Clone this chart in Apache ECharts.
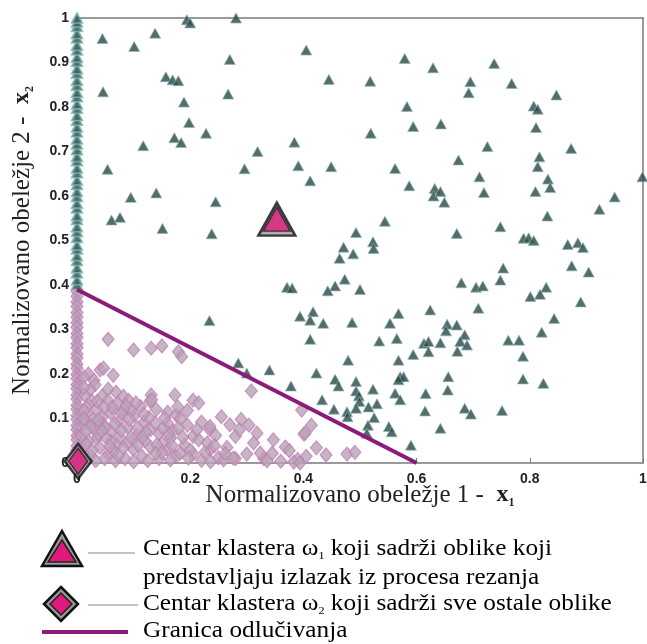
<!DOCTYPE html>
<html><head><meta charset="utf-8">
<script src="https://cdn.jsdelivr.net/npm/echarts@6/dist/echarts.min.js"></script>
<style>html,body{margin:0;padding:0;background:#fff}#c{width:647px;height:644px}</style>
</head><body><div id="c"></div>
<script>
// ---- data ----
const xTicks = [0, 0.2, 0.4, 0.6, 0.8, 1];
const yTicks = [0, 0.1, 0.2, 0.3, 0.4, 0.5, 0.6, 0.7, 0.8, 0.9, 1];

// class 1 (triangles) stacked on x = 0
const class1ColumnY = [0.401,0.412,0.427,0.439,0.455,0.466,0.481,0.490,0.507,0.520,0.531,0.547,0.556,0.573,0.584,0.599,0.610,0.626,0.636,0.652,0.663,0.679,0.689,0.704,0.717,0.728,0.744,0.755,0.770,0.781,0.797,0.807,0.823,0.833,0.849,0.860,0.876,0.886,0.902,0.912,0.928,0.939,0.955,0.965,0.981,0.991,1.000];
// class 1 (triangles) scattered points [x1, x2]
const class1Points = [
[0.194,0.996],[0.200,0.989],[0.281,1.0],[0.045,0.954],[0.138,0.966],[0.101,0.936],[0.405,0.928],[0.270,0.907],[0.157,0.868],[0.169,0.861],[0.179,0.859],[0.445,0.862],[0.046,0.834],[0.267,0.829],[0.189,0.811],[0.198,0.765],[0.228,0.741],[0.172,0.731],[0.184,0.720],[0.117,0.713],[0.384,0.721],[0.319,0.700],[0.054,0.660],[0.296,0.661],[0.391,0.668],[0.449,0.666],[0.412,0.634],[0.095,0.597],[0.140,0.607],[0.245,0.587],[0.061,0.546],[0.076,0.552],[0.151,0.527],[0.238,0.515],
[0.579,0.909],[0.629,0.888],[0.737,0.898],[0.518,0.858],[0.695,0.857],[0.692,0.832],[0.768,0.853],[0.847,0.827],[0.583,0.801],[0.807,0.802],[0.814,0.795],[0.519,0.741],[0.594,0.756],[0.643,0.762],[0.811,0.754],[0.725,0.711],[0.873,0.707],[0.817,0.688],[0.674,0.681],[0.814,0.666],[0.562,0.662],[0.711,0.643],[0.832,0.638],[0.836,0.619],[0.999,0.643],[0.587,0.623],[0.632,0.617],[0.630,0.600],[0.642,0.610],[0.649,0.586],[0.719,0.608],[0.810,0.610],[0.950,0.598],[0.923,0.570],[0.831,0.555],
[0.544,0.543],[0.748,0.531],[0.671,0.516],[0.493,0.518],[0.523,0.497],[0.524,0.482],[0.471,0.485],[0.488,0.470],[0.464,0.460],[0.789,0.505],[0.798,0.506],[0.807,0.500],[0.867,0.491],[0.885,0.495],[0.894,0.484],[0.874,0.443],[0.904,0.429],[0.753,0.438],[0.748,0.411],[0.679,0.405],[0.705,0.395],[0.717,0.398],[0.829,0.395],[0.818,0.379],[0.801,0.374],[0.890,0.362],[0.473,0.413],[0.456,0.398],[0.443,0.387],[0.500,0.390],
[0.709,0.348],[0.624,0.344],[0.568,0.336],[0.843,0.325],[0.417,0.340],[0.412,0.321],[0.394,0.330],[0.435,0.314],[0.486,0.316],[0.553,0.314],[0.654,0.312],[0.671,0.310],[0.652,0.297],[0.821,0.294],[0.412,0.278],[0.534,0.274],[0.565,0.280],[0.685,0.288],[0.677,0.273],[0.689,0.265],[0.672,0.251],[0.642,0.270],[0.613,0.269],[0.621,0.273],[0.621,0.250],[0.594,0.244],[0.762,0.276],[0.781,0.276],[0.788,0.240],[0.479,0.231],[0.568,0.231],
[0.423,0.202],[0.456,0.188],[0.462,0.173],[0.493,0.183],[0.493,0.162],[0.498,0.151],[0.499,0.138],[0.523,0.166],[0.571,0.194],[0.577,0.194],[0.568,0.187],[0.656,0.194],[0.655,0.164],[0.616,0.156],[0.562,0.157],[0.571,0.142],[0.788,0.189],[0.824,0.179],[0.433,0.142],[0.454,0.121],[0.477,0.115],[0.478,0.104],[0.493,0.123],[0.515,0.126],[0.530,0.133],[0.525,0.102],[0.514,0.085],[0.615,0.117],[0.685,0.123],[0.696,0.110],[0.751,0.118],[0.551,0.082],[0.556,0.070],[0.642,0.078],[0.590,0.040],
[0.234,0.320],[0.285,0.225],[0.340,0.209],[0.300,0.202],[0.378,0.173],[0.371,0.395],[0.380,0.393],[0.512,0.067]
];

// class 2 (diamonds) stacked on x = 0
const class2ColumnY = [0.386,0.375,0.362,0.352,0.338,0.328,0.315,0.305,0.291,0.282,0.268,0.259,0.245,0.236,0.222,0.213,0.199,0.190,0.176,0.167,0.153,0.144,0.130,0.121,0.107,0.098,0.084,0.075,0.061,0.052,0.038,0.029,0.016,0.006];
// class 2 (diamonds) scattered points [x1, x2]
const class2Points = [
[0.055,0.278],[0.100,0.254],[0.131,0.258],[0.150,0.263],[0.179,0.250],[0.185,0.239],
[0.020,0.200],[0.041,0.209],[0.047,0.213],[0.030,0.186],[0.012,0.193],[0.064,0.197],
[0.032,0.176],[0.023,0.164],[0.014,0.152],[0.055,0.166],[0.069,0.159],[0.082,0.150],[0.131,0.153],[0.173,0.153],[0.044,0.150],
[0.020,0.131],[0.035,0.121],[0.055,0.140],[0.071,0.133],[0.091,0.141],[0.083,0.119],[0.101,0.106],[0.112,0.127],[0.129,0.139],[0.160,0.114],[0.175,0.108],[0.205,0.141],[0.215,0.135],[0.255,0.104],[0.045,0.104],[0.060,0.112],[0.140,0.120],[0.132,0.142],[0.308,0.162],[0.397,0.119],
[0.015,0.090],[0.030,0.076],[0.045,0.088],[0.060,0.071],[0.075,0.095],[0.090,0.080],[0.105,0.061],[0.118,0.091],[0.130,0.075],[0.145,0.066],[0.160,0.089],[0.170,0.071],[0.183,0.100],[0.195,0.085],[0.220,0.092],[0.234,0.076],[0.245,0.062],[0.270,0.086],[0.290,0.098],[0.280,0.060],[0.318,0.067],[0.035,0.055],[0.075,0.058],[0.120,0.050],[0.165,0.055],[0.205,0.060],[0.287,0.075],[0.304,0.085],[0.414,0.085],[0.401,0.065],[0.161,0.067],[0.179,0.079],[0.235,0.082],[0.215,0.052],[0.347,0.052],[0.403,0.067],
[0.010,0.030],[0.025,0.015],[0.040,0.035],[0.055,0.020],[0.070,0.040],[0.085,0.010],[0.100,0.030],[0.115,0.015],[0.130,0.035],[0.145,0.010],[0.160,0.030],[0.175,0.015],[0.190,0.040],[0.205,0.020],[0.220,0.006],[0.235,0.030],[0.250,0.012],[0.265,0.035],[0.280,0.010],[0.300,0.020],[0.312,0.045],[0.330,0.010],[0.345,0.022],[0.360,0.004],[0.368,0.036],[0.375,0.028],[0.390,0.008],[0.405,0.015],[0.423,0.034],[0.440,0.018],[0.477,0.020],[0.491,0.024],[0.060,0.048],[0.090,0.045],[0.150,0.045],[0.230,0.045],[0.020,0.050],[0.336,0.005],[0.383,0.002],[0.394,0.000],[0.182,0.022],[0.200,0.029],[0.259,0.007],[0.276,0.011],[0.324,0.022],[0.236,0.003],[0.165,0.007],
[0.008,0.062],[0.018,0.110],[0.028,0.098],[0.038,0.064],[0.050,0.080],[0.065,0.026],[0.078,0.073],[0.095,0.058],[0.108,0.040],[0.122,0.070],[0.138,0.090],[0.150,0.024],[0.012,0.170],[0.026,0.140],[0.062,0.125],[0.096,0.118],[0.048,0.125],[0.008,0.012],[0.033,0.005],[0.068,0.005],[0.100,0.003],[0.125,0.005],
[0.013,0.118],[0.024,0.082],[0.037,0.097],[0.052,0.056],[0.067,0.088],[0.082,0.034],[0.093,0.098],[0.107,0.079],[0.116,0.058],[0.127,0.102],[0.141,0.041],[0.152,0.078],[0.168,0.039],[0.187,0.058],[0.197,0.011],[0.212,0.075],[0.226,0.024],[0.017,0.041],[0.044,0.072],[0.058,0.037],[0.079,0.112],[0.087,0.129],[0.104,0.135],[0.118,0.110],[0.036,0.139],[0.016,0.071],[0.073,0.017],[0.139,0.022],[0.195,0.118],[0.243,0.039],[0.262,0.021],[0.155,0.101],[0.178,0.126],[0.012,0.100],[0.027,0.029],[0.049,0.010]
];

// cluster centres
const center1 = [0.353, 0.548];
const center2 = [0.002, 0.004];
// decision boundary
const boundaryX = [0, 0.6];
const boundaryY = [0.39, 0];

// ---- chart ----
const TRI = '#2c4745', TRI_EDGE = '#86b9b7';
const DIA = '#b6a4b4', DIA_EDGE = '#c67ab8';
const MAG = '#e0197d', LINE = '#8b1a78';
const serif = '"Liberation Serif","Times New Roman",serif';
const sans = '"Liberation Sans",Arial,sans-serif';
const fmt = v => (v === 0 ? '0' : v === 1 ? '1' : v.toFixed(1));

const chart = echarts.init(document.getElementById('c'), null, {renderer: 'canvas'});
const nameRich = {
  a: {fontFamily: serif, fontSize: 25, color: '#222', lineHeight: 28},
  b: {fontFamily: serif, fontSize: 24, fontWeight: 'bold', color: '#222', lineHeight: 28},
  s: {fontFamily: serif, fontSize: 12, fontWeight: 'bold', color: '#222', lineHeight: 12, verticalAlign: 'bottom'}
};
const legRich = {
  a: {fontFamily: serif, fontSize: 23, color: '#222', lineHeight: 26},
  s: {fontFamily: serif, fontSize: 11, color: '#222', lineHeight: 11, verticalAlign: 'bottom'}
};

chart.setOption({
  animation: false,
  backgroundColor: '#fff',
  grid: {left: 77, right: 4, top: 18, bottom: 181, containLabel: false, outerBoundsMode: 'none'},
  xAxis: [{
    type: 'value', min: 0, max: 1, interval: 0.2, position: 'bottom',
    axisLine: {show: true, onZero: false, lineStyle: {color: '#7a7a7a', width: 1.5}},
    axisTick: {show: true, inside: true, length: 5, lineStyle: {color: '#7a7a7a'}},
    axisLabel: {fontFamily: sans, fontWeight: 'bold', fontSize: 14, color: '#222', margin: 9, formatter: fmt},
    splitLine: {show: false},
    name: '{a|Normalizovano obeležje 1 -  }{b|x}{s|1}',
    nameLocation: 'middle', nameGap: 18, nameMoveOverlap: false,
    nameTextStyle: {rich: nameRich}
  }, {
    type: 'value', min: 0, max: 1, position: 'top',
    axisLine: {show: true, onZero: false, lineStyle: {color: '#7a7a7a', width: 1.5}},
    axisTick: {show: false}, axisLabel: {show: false}, splitLine: {show: false}
  }],
  yAxis: [{
    type: 'value', min: 0, max: 1, interval: 0.1, position: 'left',
    axisLine: {show: true, onZero: false, lineStyle: {color: '#7a7a7a', width: 1.5}},
    axisTick: {show: true, inside: true, length: 5, lineStyle: {color: '#7a7a7a'}},
    axisLabel: {fontFamily: sans, fontWeight: 'bold', fontSize: 14, color: '#222', margin: 8, formatter: fmt},
    splitLine: {show: false},
    name: '{a|Normalizovano obeležje 2 -  }{b|x}{s|2}',
    nameLocation: 'middle', nameGap: 41, nameRotate: 90, nameMoveOverlap: false,
    nameTextStyle: {rich: nameRich}
  }, {
    type: 'value', min: 0, max: 1, position: 'right',
    axisLine: {show: true, onZero: false, lineStyle: {color: '#7a7a7a', width: 1.5}},
    axisTick: {show: false}, axisLabel: {show: false}, splitLine: {show: false}
  }],
  series: [
    {type: 'scatter', clip: false, symbol: 'diamond', symbolSize: [12, 14],
     itemStyle: {color: DIA, borderColor: DIA_EDGE, borderWidth: 1.2},
     data: class2ColumnY.map(y => [0, y])},
    {type: 'scatter', clip: false, symbol: 'diamond', symbolSize: [12, 14],
     itemStyle: {color: DIA, borderColor: DIA_EDGE, borderWidth: 1.1},
     data: class2Points},
    {type: 'scatter', clip: false, symbol: 'triangle', symbolSize: [11, 10],
     itemStyle: {color: '#3a5e5c', borderColor: '#7fb6b4', borderWidth: 1.6},
     data: class1ColumnY.map(y => [0, y])},
    {type: 'scatter', clip: false, symbol: 'triangle', symbolSize: [11, 10],
     itemStyle: {color: TRI, borderColor: TRI_EDGE, borderWidth: 0.8},
     data: class1Points},
    {type: 'line', symbol: 'none', clip: false,
     lineStyle: {color: LINE, width: 4},
     data: boundaryX.map((x, i) => [x, boundaryY[i]])},
    {type: 'scatter', clip: false, symbol: 'triangle', symbolSize: [37, 33],
     itemStyle: {color: '#9a9a9a', borderColor: '#111', borderWidth: 2.5}, data: [center1], z: 5},
    {type: 'scatter', clip: false, symbol: 'triangle', symbolSize: [27, 24],
     itemStyle: {color: MAG, borderColor: '#222', borderWidth: 1.5}, data: [center1], z: 6},
    {type: 'scatter', clip: false, symbol: 'diamond', symbolSize: [27, 35],
     itemStyle: {color: '#9a9a9a', borderColor: '#111', borderWidth: 2.5}, data: [center2], z: 5},
    {type: 'scatter', clip: false, symbol: 'diamond', symbolSize: [19, 26],
     itemStyle: {color: MAG, borderColor: '#222', borderWidth: 1.5}, data: [center2], z: 6}
  ],
  graphic: [
    // legend: triangle
    {type: 'polygon', shape: {points: [[62, 531], [82, 566], [42, 566]]}, style: {fill: '#9a9a9a', stroke: '#111', lineWidth: 2.5}},
    {type: 'polygon', shape: {points: [[62, 540], [76, 562], [48, 562]]}, style: {fill: MAG, stroke: '#222', lineWidth: 1.5}},
    {type: 'line', shape: {x1: 88, y1: 553, x2: 135, y2: 553}, style: {stroke: '#888', lineWidth: 1}},
    // legend: diamond
    {type: 'polygon', shape: {points: [[61, 587], [78, 604], [61, 621], [44, 604]]}, style: {fill: '#9a9a9a', stroke: '#111', lineWidth: 2.5}},
    {type: 'polygon', shape: {points: [[61, 593], [72, 604], [61, 615], [50, 604]]}, style: {fill: MAG, stroke: '#222', lineWidth: 1.5}},
    {type: 'line', shape: {x1: 88, y1: 605, x2: 138, y2: 605}, style: {stroke: '#888', lineWidth: 1}},
    // legend: boundary line
    {type: 'line', shape: {x1: 42, y1: 632, x2: 128, y2: 632}, style: {stroke: LINE, lineWidth: 4}},
    // legend texts
    {type: 'text', x: 143, y: 549, scaleX: 1.1, style: {text: '{a|Centar klastera ω}{s|1}{a| koji sadrži oblike koji}', rich: legRich, verticalAlign: 'middle'}},
    {type: 'text', x: 143, y: 578, scaleX: 1.1, style: {text: '{a|predstavljaju izlazak iz procesa rezanja}', rich: legRich, verticalAlign: 'middle'}},
    {type: 'text', x: 143, y: 604, scaleX: 1.1, style: {text: '{a|Centar klastera ω}{s|2}{a| koji sadrži sve ostale oblike}', rich: legRich, verticalAlign: 'middle'}},
    {type: 'text', x: 143, y: 631, scaleX: 1.1, style: {text: '{a|Granica odlučivanja}', rich: legRich, verticalAlign: 'middle'}}
  ]
});
</script></body></html>
